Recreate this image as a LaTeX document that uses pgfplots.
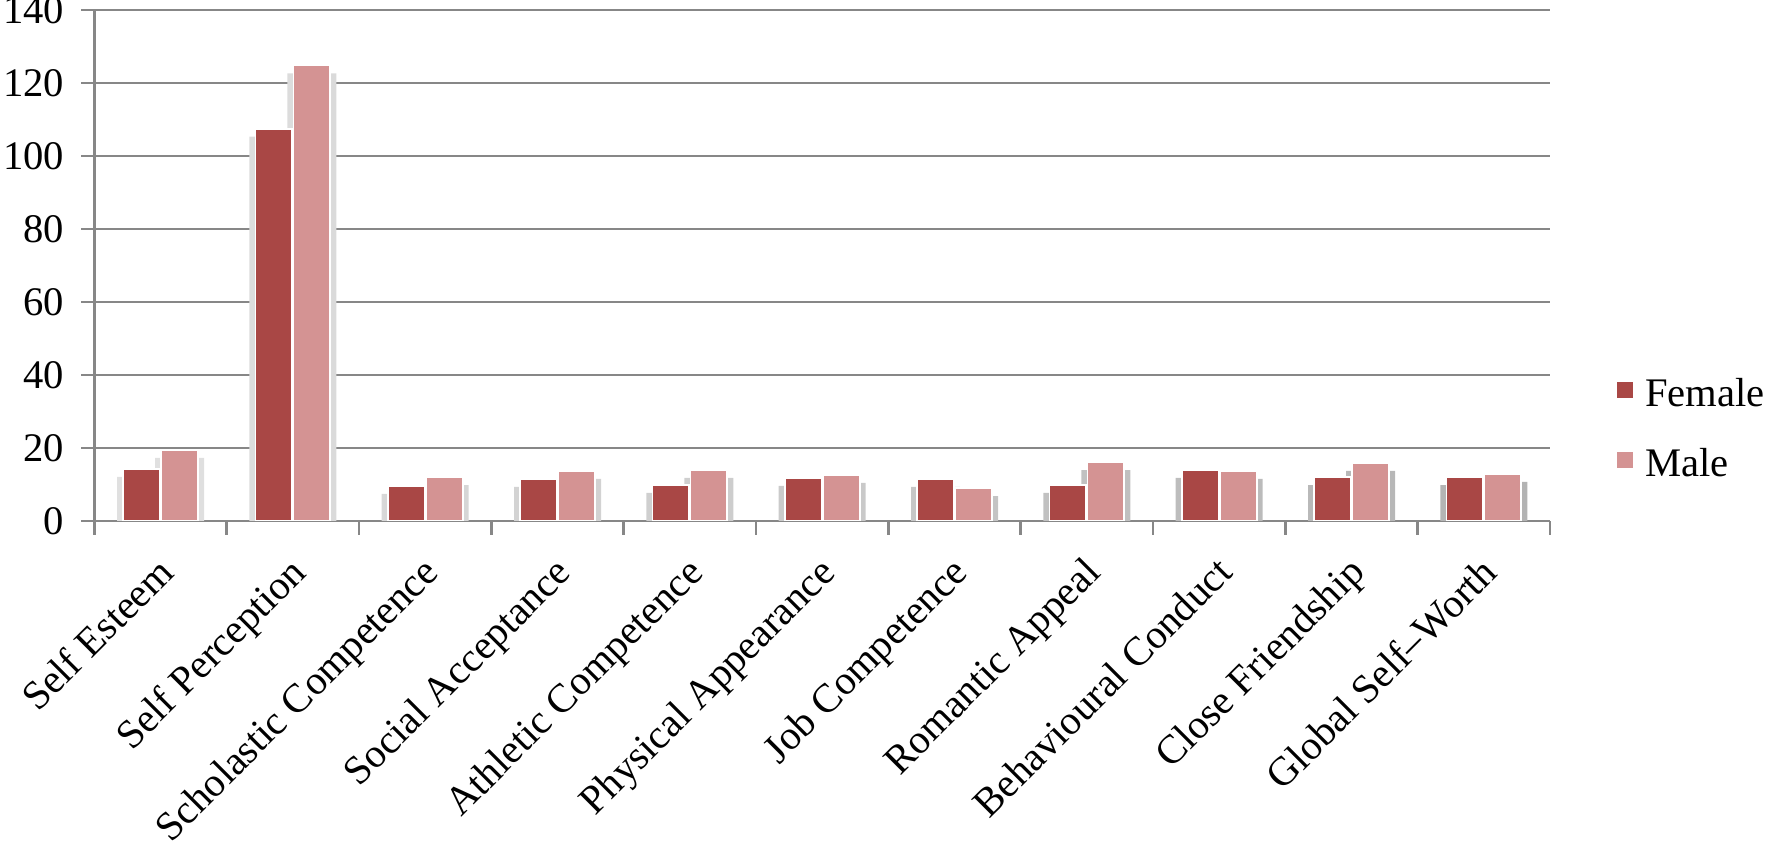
\documentclass[border=0pt]{standalone}
\usepackage{fontspec}
\setmainfont{Liberation Serif}
\usepackage{pgfplots}
\usepackage{pgfplotstable}
\pgfplotsset{compat=1.18}

\definecolor{female}{RGB}{169,71,69}
\definecolor{male}{RGB}{212,147,147}
\definecolor{axgray}{RGB}{135,135,135}

% mean scores by subscale
\pgfplotstableread{
idx female male
0  14.3  19.5
1  107.5 124.8
2  9.6   12.0
3  11.5  13.7
4  9.9   14.0
5  11.8  12.6
6  11.5  9.0
7  9.9   16.1
8  14.0  13.7
9  12.0  15.9
10 12.0  12.9
}\scores

\begin{document}
\begin{tikzpicture}
\begin{axis}[
  name=ax,
  scale only axis,
  width=727.9bp, height=255.5bp,
  xmin=-0.5, xmax=10.5,
  ymin=0, ymax=140,
  axis x line*=bottom,
  axis y line*=left,
  axis line style={axgray, line width=1.3bp},
  ytick={0,20,...,140},
  ymajorgrids,
  major grid style={axgray, line width=1.3bp},
  tick align=outside,
  major tick length=6.5bp,
  minor tick length=7bp,
  tick style={axgray, line width=1.3bp},
  xtick={0,...,10},
  major x tick style={draw=none},
  minor xtick={-0.5,0.5,...,10.5},
  xticklabels={Self Esteem, Self Perception, Scholastic Competence,
    Social Acceptance, Athletic Competence, Physical Appearance,
    Job Competence, Romantic Appeal, Behavioural Conduct,
    Close Friendship, Global Self–Worth},
  font=\fontsize{20.3bp}{24bp}\selectfont,
  /pgf/number format/assume math mode=true,
  yticklabel style={anchor=east, inner sep=0pt, xshift=-8.4bp},
  xticklabel style={xshift=-2.4bp, yshift=-10.1bp, rotate=45,
    anchor=north east, inner sep=0pt},
  legend cell align=left,
  legend style={at={(1.0446,0.18)}, anchor=west, draw=none, fill=none,
    inner sep=0pt, row sep=19.2bp, nodes={inner sep=0pt},
    /tikz/every odd column/.append style={column sep=5bp}},
  legend image code/.code={\fill[#1] (0bp,-2.5bp) rectangle (9bp,6.5bp);},
]
% soft shadows behind the bars
\addplot[ybar, forget plot, draw=none, bar width=24.5bp, bar shift=-9.5bp,
  yshift=-4bp, left color=black!12, right color=black!30]
  table[x=idx, y=female] {\scores};
\addplot[ybar, forget plot, draw=none, bar width=24.5bp, bar shift=9.5bp,
  yshift=-4bp, left color=black!12, right color=black!30]
  table[x=idx, y=male] {\scores};

\addplot[ybar, fill=female, draw=white, line width=0.9bp,
  bar width=18.4bp, bar shift=-9.5bp]
  table[x=idx, y=female] {\scores};
\addplot[ybar, fill=male, draw=white, line width=0.9bp,
  bar width=18.4bp, bar shift=9.5bp]
  table[x=idx, y=male] {\scores};
\legend{Female, Male}
\end{axis}
% page frame as in the reference (top label runs off the edge there too)
\pgfresetboundingbox
\path ([xshift=-47.2bp, yshift=-163bp]ax.south west)
  rectangle ([xshift=108bp, yshift=5bp]ax.north east);
\end{tikzpicture}
\end{document}
